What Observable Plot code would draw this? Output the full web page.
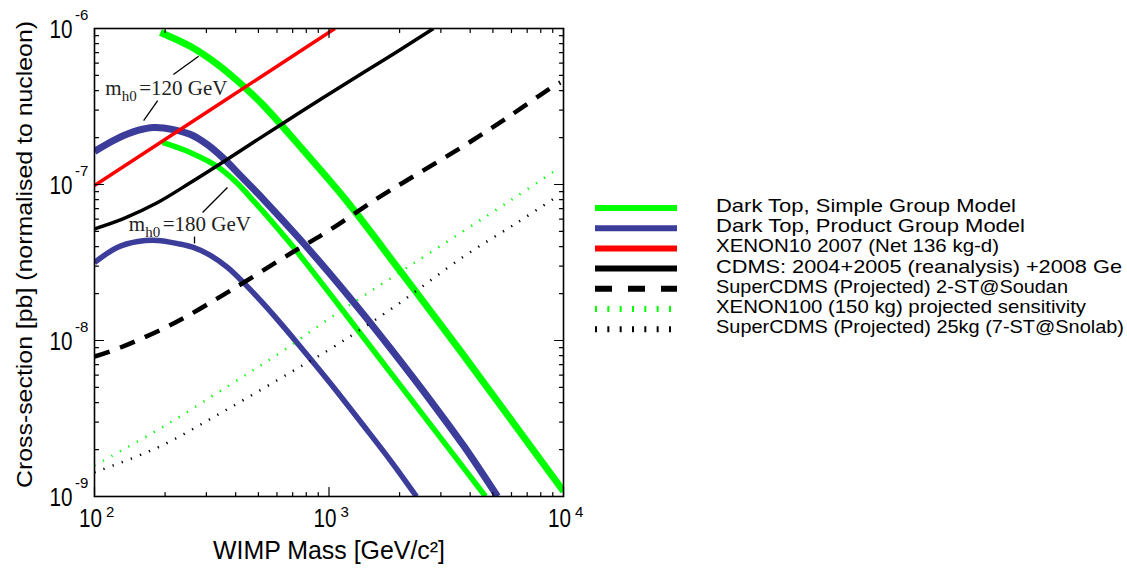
<!DOCTYPE html>
<html><head><meta charset="utf-8">
<script src="https://cdn.jsdelivr.net/npm/d3@7"></script>
<script src="https://cdn.jsdelivr.net/npm/@observablehq/plot@0.6"></script>
<style>
body{margin:0;background:#fff;}
#wrap{position:relative;width:1127px;height:574px;overflow:hidden;}
#wrap svg{position:absolute;left:0;top:0;}
</style></head><body><div id="wrap"></div>
<script>
// ---------- data (WIMP mass in GeV/c^2, cross-section in pb) ----------
const simpleUpperMass = [191, 257, 335, 419, 526, 779, 1176, 2018, 3566, 10000];
const simpleUpperXsec = [9.43e-7, 7.66e-7, 5.88e-7, 4.44e-7, 3.21e-7, 1.65e-7, 8.01e-8, 2.77e-8, 8.9e-9, 1.08e-9];

const simpleLowerMass = [195, 257, 335, 399, 463, 685, 1548, 4650];
const simpleLowerXsec = [1.86e-7, 1.60e-7, 1.30e-7, 1.046e-7, 8.25e-8, 4.18e-8, 8.63e-9, 1.0e-9];

const productUpperMass = [100, 125, 153, 179, 217, 257, 303, 355, 419, 526, 734, 1015, 1403, 1829, 2709, 3746, 5231];
const productUpperXsec = [1.63e-7, 1.97e-7, 2.22e-7, 2.32e-7, 2.25e-7, 2.09e-7, 1.80e-7, 1.47e-7, 1.14e-7, 8.01e-8, 4.64e-8, 2.65e-8, 1.47e-8, 8.89e-9, 4.12e-9, 2.12e-9, 1.0e-9];

const productLowerMass = [100, 125, 153, 186, 226, 264, 312, 369, 432, 511, 603, 741, 1015, 1403, 1829, 2361];
const productLowerXsec = [3.16e-8, 3.95e-8, 4.31e-8, 4.38e-8, 4.18e-8, 3.95e-8, 3.51e-8, 2.94e-8, 2.35e-8, 1.80e-8, 1.36e-8, 9.43e-9, 5.3e-9, 2.85e-9, 1.70e-9, 1.0e-9];

const xenon10Mass = [100, 355, 1060];
const xenon10Xsec = [9.86e-8, 3.42e-7, 1.0e-6];

const cdmsMass = [100, 133, 186, 257, 355, 496, 685, 947, 1403, 1959, 2790];
const cdmsXsec = [5.2e-8, 6.05e-8, 7.67e-8, 1.03e-7, 1.40e-7, 1.94e-7, 2.65e-7, 3.61e-7, 5.22e-7, 7.12e-7, 1.0e-6];

const superCdms2Mass = [100, 129, 217, 380, 685, 985, 1579, 2432, 3783, 5771, 8889, 9700];
const superCdms2Xsec = [7.89e-9, 9.02e-9, 1.285e-8, 2.09e-8, 3.61e-8, 5.0e-8, 8.01e-8, 1.19e-7, 1.78e-7, 2.69e-7, 4.18e-7, 4.5e-7];

const xenon100Mass = [100, 197, 380, 621, 1015, 2226, 5943, 9521];
const xenon100Xsec = [1.58e-9, 2.81e-9, 5.22e-9, 8.38e-9, 1.40e-8, 3.03e-8, 7.9e-8, 1.27e-7];

const superCdms25Mass = [100, 186, 355, 685, 1087, 1959, 3746, 6365, 9521];
const superCdms25Xsec = [1.43e-9, 2.06e-9, 3.51e-9, 6.24e-9, 9.43e-9, 1.70e-8, 3.45e-8, 5.71e-8, 8.5e-8];

// ---------- axes / ticks ----------
const xMajor = [100, 1000, 10000];
const xExponents = ["2", "3", "4"];
const xMinor = [200, 300, 400, 500, 600, 700, 800, 900, 2000, 3000, 4000, 5000, 6000, 7000, 8000, 9000];
const yMajor = [1e-9, 1e-8, 1e-7, 1e-6];
const yExponents = ["-9", "-8", "-7", "-6"];
const yMinor = [2e-9, 3e-9, 4e-9, 5e-9, 6e-9, 7e-9, 8e-9, 9e-9,
                2e-8, 3e-8, 4e-8, 5e-8, 6e-8, 7e-8, 8e-8, 9e-8,
                2e-7, 3e-7, 4e-7, 5e-7, 6e-7, 7e-7, 8e-7, 9e-7];
const xTitle = "WIMP Mass [GeV/c²]";
const yTitle = "Cross-section [pb] (normalised to nucleon)";

// ---------- annotations ----------
const annotMass = [111, 140];
const annotXsec = [3.73e-7, 5.07e-8];
const annotText = ["=120 GeV", "=180 GeV"];
const leaderMass1 = [217, 162, 289, 267];
const leaderXsec1 = [5.07e-7, 2.57e-7, 6.62e-8, 4.64e-8];
const leaderMass2 = [278, 186, 369, 267];
const leaderXsec2 = [6.63e-7, 3.45e-7, 9.57e-8, 4.19e-8];

// ---------- legend ----------
const legendLabels = [
  "Dark Top, Simple Group Model",
  "Dark Top, Product Group Model",
  "XENON10 2007 (Net 136 kg-d)",
  "CDMS: 2004+2005 (reanalysis) +2008 Ge",
  "SuperCDMS (Projected) 2-ST@Soudan",
  "XENON100 (150 kg) projected sensitivity",
  "SuperCDMS (Projected) 25kg (7-ST@Snolab)"
];

// ---------- styles ----------
const GREEN = "#00ff00", BLUE = "#3c3c9a", RED = "#ff0000", BLACK = "#000000";
const series = [
  {mass: simpleUpperMass, xsec: simpleUpperXsec, stroke: GREEN, width: 7},
  {mass: simpleLowerMass, xsec: simpleLowerXsec, stroke: GREEN, width: 5.5},
  {mass: productLowerMass, xsec: productLowerXsec, stroke: BLUE, width: 5.5},
  {mass: productUpperMass, xsec: productUpperXsec, stroke: BLUE, width: 7},
  {mass: xenon10Mass, xsec: xenon10Xsec, stroke: RED, width: 3.5, curve: "linear"},
  {mass: cdmsMass, xsec: cdmsXsec, stroke: BLACK, width: 3.5},
  {mass: superCdms2Mass, xsec: superCdms2Xsec, stroke: BLACK, width: 4.5, dash: "16,11"},
  {mass: xenon100Mass, xsec: xenon100Xsec, stroke: GREEN, width: 2.5, dash: "1.3,8.4"},
  {mass: superCdms25Mass, xsec: superCdms25Xsec, stroke: BLACK, width: 2.5, dash: "1.3,8.4"}
];
const legendStyles = [
  {stroke: GREEN}, {stroke: BLUE}, {stroke: RED}, {stroke: BLACK},
  {stroke: BLACK, dash: "17,16"}, {stroke: GREEN, dash: "2,10.33"}, {stroke: BLACK, dash: "2,10.33"}
];
const legendTextLength = [300, 309, 283, 406, 352, 370, 408];

const sans = "'Liberation Sans', Arial, sans-serif";
const serif = "'Liberation Serif', 'Times New Roman', serif";

const tickShape = {draw(context, l) { context.moveTo(0, 0); context.lineTo(0, -l); }};
function tickMarks(values, channel, frameAnchor, rotate, length) {
  return Plot.vector(values, {[channel]: d => d, frameAnchor, rotate, length, anchor: "start",
    shape: tickShape, stroke: "black", strokeWidth: 1.2});
}

const lineMarks = series.map(s => Plot.line(
  s.mass.map((m, i) => ({mass: m, xsec: s.xsec[i]})),
  {x: "mass", y: "xsec", stroke: s.stroke, strokeWidth: s.width, strokeDasharray: s.dash,
   curve: s.curve || "catmull-rom", clip: true, strokeLinecap: "butt", strokeLinejoin: "round"}
));

const annots = annotMass.map((m, i) => ({mass: m, xsec: annotXsec[i], label: annotText[i]}));
const leaders = leaderMass1.map((m, i) => ({x1: m, y1: leaderXsec1[i], x2: leaderMass2[i], y2: leaderXsec2[i]}));
const xTicks = xMajor.map((v, i) => ({v, e: xExponents[i]}));
const yTicks = yMajor.map((v, i) => ({v, e: yExponents[i]}));

const chart = Plot.plot({
  width: 1127, height: 574,
  marginLeft: 94, marginRight: 564, marginTop: 28, marginBottom: 78,
  x: {type: "log", domain: [100, 10000], axis: null},
  y: {type: "log", domain: [1e-9, 1e-6], axis: null},
  style: {background: "white", fontFamily: sans, color: "black"},
  marks: [
    ...lineMarks,
    Plot.link(leaders, {x1: "x1", y1: "y1", x2: "x2", y2: "y2", stroke: "black", strokeWidth: 1.3}),
    Plot.text(annots, {x: "mass", y: "xsec", text: () => "m", textAnchor: "start", lineAnchor: "bottom", fontFamily: serif, fontSize: 21, fill: "#222"}),
    Plot.text(annots, {x: "mass", y: "xsec", text: () => "h0", textAnchor: "start", lineAnchor: "bottom", dx: 16.5, dy: 6, fontFamily: serif, fontSize: 15, fill: "#222"}),
    Plot.text(annots, {x: "mass", y: "xsec", text: "label", textAnchor: "start", lineAnchor: "bottom", dx: 34, fontFamily: serif, fontSize: 21, fill: "#222"}),
    tickMarks(xMinor, "x", "bottom", 0, 4),
    tickMarks(xMinor, "x", "top", 180, 4),
    tickMarks(xMajor, "x", "bottom", 0, 9),
    tickMarks(xMajor, "x", "top", 180, 9),
    tickMarks(yMinor, "y", "left", 90, 4),
    tickMarks(yMinor, "y", "right", 270, 4),
    tickMarks(yMajor, "y", "left", 90, 9),
    tickMarks(yMajor, "y", "right", 270, 9),
    Plot.frame({stroke: "black", strokeWidth: 1.6}),
    Plot.text(xTicks, {x: "v", frameAnchor: "bottom", text: () => "10", textAnchor: "middle", dx: -4, dy: 30, fontSize: 25}),
    Plot.text(xTicks, {x: "v", frameAnchor: "bottom", text: "e", textAnchor: "start", dx: 11.5, dy: 20, fontSize: 15}),
    Plot.text(yTicks, {y: "v", frameAnchor: "left", text: () => "10", textAnchor: "end", dx: -22, dy: 1, fontSize: 25}),
    Plot.text(yTicks, {y: "v", frameAnchor: "left", text: "e", textAnchor: "start", dx: -19.5, dy: -13, fontSize: 15}),
    Plot.text([xTitle], {frameAnchor: "bottom", text: d => d, textAnchor: "middle", dy: 62, fontSize: 25}),
    Plot.text([yTitle], {frameAnchor: "left", text: d => d, textAnchor: "middle", rotate: -90, dx: -70, dy: -8, fontSize: 22})
  ]
});

// tighten condensed-looking text to the reference's measured widths
d3.select(chart).selectAll("text").each(function () {
  const t = this.textContent;
  const sel = d3.select(this);
  if (t === xTitle) sel.attr("textLength", 232).attr("lengthAdjust", "spacingAndGlyphs");
  else if (t === yTitle) sel.attr("textLength", 467).attr("lengthAdjust", "spacingAndGlyphs");
  else if (t === "10") sel.attr("textLength", 23).attr("lengthAdjust", "spacingAndGlyphs");
});

const wrap = document.getElementById("wrap");
wrap.appendChild(chart);

// legend (drawn beside the plot)
const legend = d3.create("svg").attr("width", 1127).attr("height", 574).style("pointer-events", "none");
legendLabels.forEach((label, i) => {
  const y = 208 + i * 20.2;
  const st = legendStyles[i];
  legend.append("line").attr("x1", 595).attr("x2", 677).attr("y1", y).attr("y2", y)
    .attr("stroke", st.stroke).attr("stroke-width", 6).attr("stroke-dasharray", st.dash || null);
  legend.append("text").attr("x", 716).attr("y", y + 4).text(label)
    .attr("font-family", sans).attr("font-size", 18.5).attr("fill", "black")
    .attr("textLength", legendTextLength[i]).attr("lengthAdjust", "spacingAndGlyphs");
});
wrap.appendChild(legend.node());
</script></body></html>
